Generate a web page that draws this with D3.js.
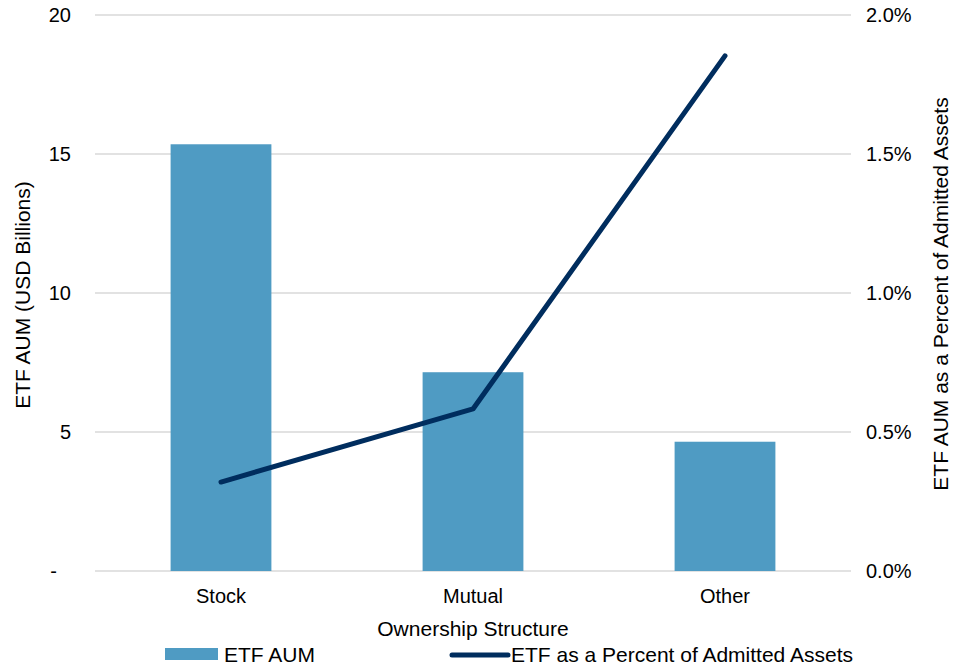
<!DOCTYPE html>
<html lang="en">
<head>
<meta charset="UTF-8">
<title>ETF AUM by Ownership Structure</title>
<script src="https://cdnjs.cloudflare.com/ajax/libs/d3/7.8.5/d3.min.js"></script>
<style>
  body { margin: 0; background: #fff; font-family: "Liberation Sans", Arial, sans-serif; }
  svg text { fill: #000; }
</style>
</head>
<body>
<div id="chart"></div>
<script>
// data
const categories = ["Stock", "Mutual", "Other"];
const aumValues = [15.35, 7.15, 4.65];          // USD billions
const pctValues = [0.0032, 0.00583, 0.01853];   // share of admitted assets
const leftTicks = [0, 5, 10, 15, 20];
const rightTicks = [0, 0.005, 0.01, 0.015, 0.02];

const width = 959, height = 667;
const margin = { top: 15, right: 108, bottom: 96, left: 95 };
const innerW = width - margin.left - margin.right;
const innerH = height - margin.top - margin.bottom;
const tickFont = "20px", titleFont = "21px";

const svg = d3.select("#chart").append("svg")
    .attr("width", width)
    .attr("height", height);

const g = svg.append("g").attr("transform", `translate(${margin.left},${margin.top})`);

const x = d3.scaleBand().domain(categories).range([0, innerW]).paddingInner(0.6).paddingOuter(0.3);
const yL = d3.scaleLinear().domain([0, 20]).range([innerH, 0]);
const yR = d3.scaleLinear().domain([0, 0.02]).range([innerH, 0]);

// gridlines
g.append("g").selectAll("line")
    .data(leftTicks)
    .enter().append("line")
    .attr("x1", 0).attr("x2", innerW)
    .attr("y1", d => yL(d)).attr("y2", d => yL(d))
    .attr("stroke", "#d9d9d9")
    .attr("stroke-width", 1.5);

// left axis
const leftAxis = g.append("g")
    .call(d3.axisLeft(yL).tickValues(leftTicks).tickSize(0).tickPadding(24)
        .tickFormat(d => d === 0 ? "-" : d));
leftAxis.select(".domain").remove();
leftAxis.selectAll("text").style("font-size", tickFont).style("font-family", "'Liberation Sans', Arial, sans-serif");
leftAxis.selectAll(".tick").filter(d => d === 0).select("text").attr("dx", -14);

// right axis
const rightAxis = g.append("g")
    .attr("transform", `translate(${innerW},0)`)
    .call(d3.axisRight(yR).tickValues(rightTicks).tickSize(0).tickPadding(15)
        .tickFormat(d3.format(".1%")));
rightAxis.select(".domain").remove();
rightAxis.selectAll("text").style("font-size", tickFont).style("font-family", "'Liberation Sans', Arial, sans-serif");

// bars
g.append("g").selectAll("rect")
    .data(categories)
    .enter().append("rect")
    .attr("x", d => x(d))
    .attr("width", x.bandwidth())
    .attr("y", (d, i) => yL(aumValues[i]))
    .attr("height", (d, i) => innerH - yL(aumValues[i]))
    .attr("fill", "#4f9bc3");

// line
const line = d3.line()
    .x((d, i) => x(categories[i]) + x.bandwidth() / 2)
    .y(d => yR(d));

g.append("path")
    .datum(pctValues)
    .attr("d", line)
    .attr("fill", "none")
    .attr("stroke", "#002d5e")
    .attr("stroke-width", 5)
    .attr("stroke-linecap", "round")
    .attr("stroke-linejoin", "round");

// x axis
const xAxis = g.append("g")
    .attr("transform", `translate(0,${innerH})`)
    .call(d3.axisBottom(x).tickSize(0).tickPadding(18));
xAxis.select(".domain").remove();
xAxis.selectAll("text").style("font-size", tickFont).style("font-family", "'Liberation Sans', Arial, sans-serif");

// axis titles
svg.append("text")
    .attr("x", margin.left + innerW / 2)
    .attr("y", 636)
    .attr("text-anchor", "middle")
    .style("font-size", titleFont)
    .text("Ownership Structure");

svg.append("text")
    .attr("transform", `translate(30,${margin.top + innerH / 2 + 2}) rotate(-90)`)
    .attr("text-anchor", "middle")
    .style("font-size", titleFont)
    .text("ETF AUM (USD Billions)");

svg.append("text")
    .attr("transform", `translate(948,${margin.top + innerH / 2 + 1}) rotate(-90)`)
    .attr("text-anchor", "middle")
    .style("font-size", titleFont)
    .text("ETF AUM as a Percent of Admitted Assets");

// legend
const legend = svg.append("g");
legend.append("rect")
    .attr("x", 165).attr("y", 648)
    .attr("width", 53).attr("height", 12)
    .attr("fill", "#4f9bc3");
legend.append("text")
    .attr("x", 224).attr("y", 662)
    .style("font-size", titleFont)
    .text("ETF AUM");
legend.append("line")
    .attr("x1", 452).attr("x2", 508)
    .attr("y1", 655).attr("y2", 655)
    .attr("stroke", "#002d5e")
    .attr("stroke-width", 5)
    .attr("stroke-linecap", "round");
legend.append("text")
    .attr("x", 511).attr("y", 662)
    .style("font-size", titleFont)
    .text("ETF as a Percent of Admitted Assets");
</script>
</body>
</html>
